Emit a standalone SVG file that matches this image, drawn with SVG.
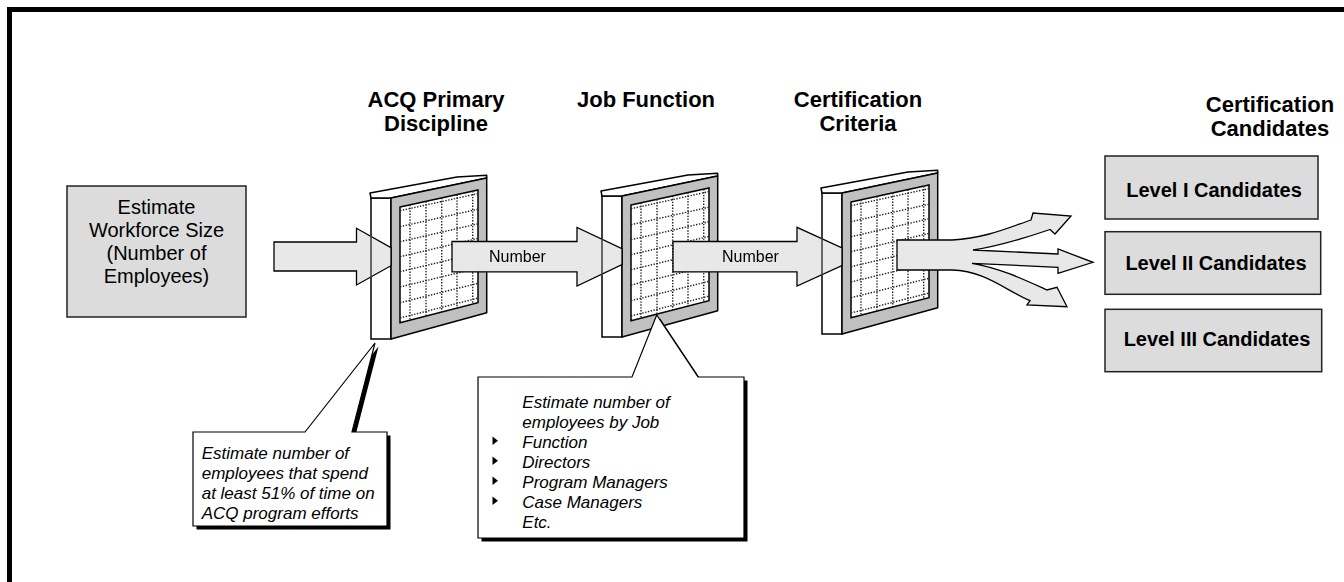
<svg xmlns="http://www.w3.org/2000/svg" xmlns:xlink="http://www.w3.org/1999/xlink" width="1344" height="582" viewBox="0 0 1344 582">
  <style>
    .frame-border { fill: none; stroke: #000; stroke-width: 5; }
    .side { fill: #fff; stroke: #000; stroke-width: 1.5; }
    .topface { fill: #fff; stroke: #000; stroke-width: 1.5; stroke-linejoin: round; }
    .pframe { fill: #c0c0c0; stroke: #000; stroke-width: 1.5; stroke-linejoin: round; }
    .inner { fill: #fff; stroke: #000; stroke-width: 1.5; }
    .grid { fill: none; stroke: #222; stroke-width: 1.4; stroke-dasharray: 1.4 1.5; }
    .box { fill: #dcdcdc; stroke: #222; stroke-width: 1.5; }
    .arrow { fill: #e8e8e8; stroke: #000; stroke-width: 1.3; stroke-linejoin: miter; }
    .callout { fill: #fff; stroke: #000; stroke-width: 1.2; stroke-linejoin: miter; }
    .shadow { fill: #000; }
    .hdr { font-family: "Liberation Sans", Arial, sans-serif; font-weight: bold; font-size: 22px; text-anchor: middle; fill: #000; }
    .lvl { font-family: "Liberation Sans", Arial, sans-serif; font-weight: bold; font-size: 20px; text-anchor: middle; fill: #000; }
    .body { font-family: "Liberation Sans", Arial, sans-serif; font-size: 20px; text-anchor: middle; fill: #000; }
    .lbl { font-family: "Liberation Sans", Arial, sans-serif; font-size: 16px; fill: #000; }
    .note { font-family: "Liberation Sans", Arial, sans-serif; font-style: italic; font-size: 17px; fill: #000; }
    .bullet { fill: #000; }
  </style>
  <defs>
    <!-- one filter screen in perspective: side edge, top edge, grey frame, dotted grid -->
    <g id="screen">
      <rect class="side" x="0" y="0" width="20" height="141"/>
      <polygon class="topface" points="0,0 -1,-5 86,-21 115.7,-22.7 115.7,-20 20,0"/>
      <polygon class="pframe" points="20,0 115.7,-20 115.7,114.7 20,141"/>
      <polygon class="inner" points="29,9 107,-8 107,104.7 29,124.7"/>
      <g class="grid">
        <line x1="39" y1="6.8" x2="39" y2="122.1"/>
        <line x1="55" y1="3.3" x2="55" y2="118"/>
        <line x1="70.7" y1="-0.1" x2="70.7" y2="114"/>
        <line x1="86" y1="-3.4" x2="86" y2="110.1"/>
        <line x1="101.7" y1="-6.9" x2="101.7" y2="106.1"/>
        <line x1="29" y1="12.7" x2="107" y2="-4.4"/>
        <line x1="29" y1="28.7" x2="107" y2="11.2"/>
        <line x1="29" y1="43.7" x2="107" y2="25.8"/>
        <line x1="29" y1="58.7" x2="107" y2="40.4"/>
        <line x1="29" y1="73.7" x2="107" y2="55.1"/>
        <line x1="29" y1="89" x2="107" y2="70"/>
        <line x1="29" y1="104.7" x2="107" y2="85.3"/>
        <line x1="29" y1="120" x2="107" y2="100.1"/>
      </g>
    </g>
    <!-- lets the screens' side edges show through the arrow heads -->
    <mask id="edgeGap" maskUnits="userSpaceOnUse" x="0" y="0" width="1344" height="582">
      <rect width="1344" height="582" fill="#fff"/>
      <rect x="370.25" y="224" width="1.5" height="66" fill="#000"/>
      <rect x="601.25" y="222" width="1.5" height="68" fill="#000"/>
      <rect x="821.25" y="222" width="1.5" height="68" fill="#000"/>
    </mask>
  </defs>

  <rect width="1344" height="582" fill="#fff"/>
  <rect class="frame-border" x="9.5" y="9.5" width="1400" height="700"/>

  <g id="workforce">
    <rect class="box" x="67" y="186" width="179" height="131"/>
    <text class="body" x="156.5" y="214">Estimate</text>
    <text class="body" x="156.5" y="237">Workforce Size</text>
    <text class="body" x="156.5" y="260">(Number of</text>
    <text class="body" x="156.5" y="283">Employees)</text>
  </g>

  <g id="acq-discipline">
    <text class="hdr" x="436" y="107">ACQ Primary</text>
    <text class="hdr" x="436" y="131">Discipline</text>
    <use xlink:href="#screen" transform="translate(371,198)"/>
  </g>

  <g id="job-function">
    <text class="hdr" x="646" y="107">Job Function</text>
    <use xlink:href="#screen" transform="translate(602,196)"/>
  </g>

  <g id="cert-criteria">
    <text class="hdr" x="858" y="107">Certification</text>
    <text class="hdr" x="858" y="131">Criteria</text>
    <use xlink:href="#screen" transform="translate(822,193)"/>
  </g>

  <g id="cert-candidates">
    <text class="hdr" x="1270" y="112">Certification</text>
    <text class="hdr" x="1270" y="136">Candidates</text>
  </g>

  <g id="level-1">
    <rect class="box" x="1105" y="156" width="213" height="63"/>
    <text class="lvl" x="1214" y="197">Level I Candidates</text>
  </g>
  <g id="level-2">
    <rect class="box" x="1105" y="231.7" width="215.7" height="62.6"/>
    <text class="lvl" x="1216" y="269.5">Level II Candidates</text>
  </g>
  <g id="level-3">
    <rect class="box" x="1105" y="309.3" width="216.7" height="62.4"/>
    <text class="lvl" x="1217" y="346">Level III Candidates</text>
  </g>

  <g id="note-discipline">
    <path class="shadow" transform="translate(3.5,3.5)" d="M193,432 L305,432 L375,343 L352,432 L387,432 L387,526 L193,526 Z"/>
    <path class="callout" d="M193,432 L305,432 L375,343 L352,432 L387,432 L387,526 L193,526 Z"/>
    <text class="note" x="201.7" y="459.3">Estimate number of</text>
    <text class="note" x="201.7" y="479.3">employees that spend</text>
    <text class="note" x="201.7" y="499.2">at least 51% of time on</text>
    <text class="note" x="201.7" y="519">ACQ program efforts</text>
  </g>

  <g id="note-job-function">
    <path class="shadow" transform="translate(3.5,3.5)" d="M478,377 L632,377 L656.7,315 L698,377 L744,377 L744,538 L478,538 Z"/>
    <path class="callout" d="M478,377 L632,377 L656.7,315 L698,377 L744,377 L744,538 L478,538 Z"/>
    <text class="note" x="522.3" y="408.3">Estimate number of</text>
    <text class="note" x="522.3" y="428.3">employees by Job</text>
    <text class="note" x="522.3" y="448.3">Function</text>
    <text class="note" x="522.3" y="468.3">Directors</text>
    <text class="note" x="522.3" y="488.3">Program Managers</text>
    <text class="note" x="522.3" y="508.3">Case Managers</text>
    <text class="note" x="522.3" y="528.3">Etc.</text>
    <polygon class="bullet" points="492.5,436.5 498,440.8 492.5,445"/>
    <polygon class="bullet" points="492.5,456.5 498,460.8 492.5,465"/>
    <polygon class="bullet" points="492.5,476.5 498,480.8 492.5,485"/>
    <polygon class="bullet" points="492.5,496.5 498,500.8 492.5,505"/>
  </g>

  <g id="connectors" mask="url(#edgeGap)">
    <polygon class="arrow" points="274,242 356.5,242 356.5,228.3 391,247.6 391,265.7 356.5,285 356.5,271 274,271"/>
    <polygon class="arrow" points="452,241.5 577,241.5 577,227.5 622,248.6 622,264.6 577,286 577,271.8 452,271.8"/>
    <text class="lbl" x="489" y="262">Number</text>
    <polygon class="arrow" points="673,241.5 797,241.5 797,227.3 842,247.8 842,265.6 797,286 797,271.8 673,271.8"/>
    <text class="lbl" x="722" y="262">Number</text>
    <path class="arrow" d="M897,240 L952,240 C985,238 1005,229 1031,220 L1033,213 L1071,216 L1055,234 L1050,229.5 C1025,238 1000,246 973,250 L1058,254 L1058,249 L1093,262.3 L1058,273.3 L1058,267.3 L972,263.3 C1000,268 1025,280 1047,290 L1057,287.3 L1067,306.7 L1027,305 L1030,300.7 C1005,290 985,271 952,270 L897,270 Z"/>
  </g>
</svg>
